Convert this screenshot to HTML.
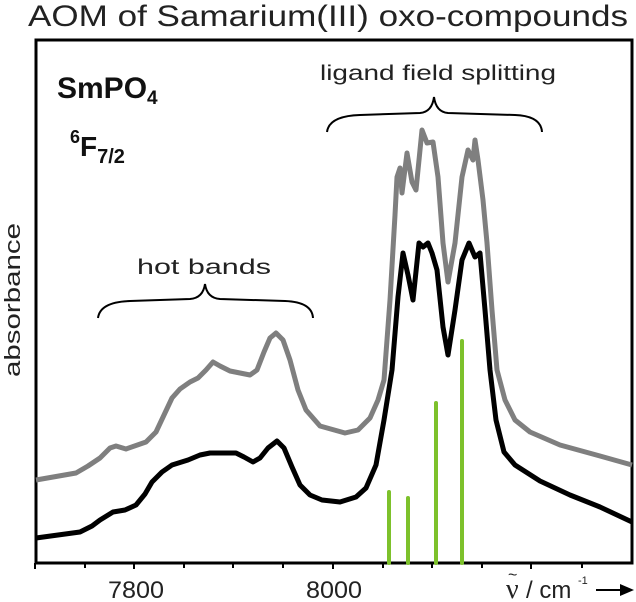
<!DOCTYPE html>
<html><head><meta charset="utf-8"><style>
body{margin:0;background:#fff;}
svg{display:block;font-family:"Liberation Sans",sans-serif;}
</style></head><body>
<svg width="636" height="602" viewBox="0 0 636 602" xmlns="http://www.w3.org/2000/svg">
<rect width="636" height="602" fill="#fff"/>
<text x="28" y="26" font-size="30" textLength="600" lengthAdjust="spacingAndGlyphs" fill="#222">AOM of Samarium(III) oxo-compounds</text>
<rect x="36" y="40" width="596" height="523" fill="none" stroke="#000" stroke-width="3"/>
<g stroke="#000" stroke-width="2">
<line x1="35" y1="563" x2="35" y2="569"/><line x1="85" y1="563" x2="85" y2="568"/>
<line x1="134" y1="563" x2="134" y2="569"/><line x1="184" y1="563" x2="184" y2="568"/>
<line x1="233" y1="563" x2="233" y2="568"/><line x1="283" y1="563" x2="283" y2="568"/>
<line x1="333" y1="563" x2="333" y2="569"/><line x1="383" y1="563" x2="383" y2="568"/>
<line x1="432" y1="563" x2="432" y2="568"/><line x1="482" y1="563" x2="482" y2="568"/>
<line x1="531" y1="563" x2="531" y2="569"/><line x1="582" y1="563" x2="582" y2="568"/>
</g>
<g font-size="24" fill="#222">
<text x="108" y="598" textLength="56" lengthAdjust="spacingAndGlyphs">7800</text>
<text x="306" y="598" textLength="56" lengthAdjust="spacingAndGlyphs">8000</text>
<text x="506" y="598" font-family="Liberation Serif" font-size="28">ν</text>
<text x="508" y="580" font-size="16">~</text>
<text x="526" y="598">/ cm</text>
<text x="578" y="584" font-size="11">-1</text>
</g>
<line x1="596" y1="590" x2="622" y2="590" stroke="#000" stroke-width="2"/>
<polygon points="620,584 634,590 620,596" fill="#000"/>
<text transform="translate(20,300) rotate(-90)" font-size="22" text-anchor="middle" textLength="154" lengthAdjust="spacingAndGlyphs" fill="#222">absorbance</text>
<text x="57" y="98" font-size="30" font-weight="bold" fill="#111">SmPO<tspan font-size="19" dy="6">4</tspan></text>
<text x="70" y="156" font-size="28" font-weight="bold" fill="#111"><tspan font-size="18" dy="-13">6</tspan><tspan dy="13">F</tspan><tspan font-size="20" dy="7">7/2</tspan></text>
<text x="137" y="274" font-size="21" textLength="134" lengthAdjust="spacingAndGlyphs" fill="#222">hot bands</text>
<text x="320" y="80" font-size="21" textLength="236" lengthAdjust="spacingAndGlyphs" fill="#222">ligand field splitting</text>
<g fill="none" stroke="#000" stroke-width="2">
<path d="M98,318 Q100,302 130,301 L190,299 Q203,298 205,284 Q207,298 220,299 L285,301 Q312,302 313,318"/>
<path d="M327,132 Q329,116 360,115 L420,113 Q432,112 434,97 Q436,112 448,113 L515,115 Q541,116 542,132"/>
</g>
<g stroke="#7dc12b" stroke-width="4" stroke-linecap="round">
<line x1="389" y1="563" x2="389" y2="492"/><line x1="408" y1="563" x2="408" y2="498"/>
<line x1="436" y1="563" x2="436" y2="403"/><line x1="462" y1="563" x2="462" y2="341"/>
</g>
<path fill="none" stroke="#7f7f7f" stroke-width="5" stroke-linejoin="round" d="M36,480 L76,473 L88,466 L100,458 L110,448 L116,446 L126,449 L146,442 L156,432 L164,415 L172,398 L180,389 L190,382 L198,378 L206,370 L213,362 L220,366 L230,371 L250,375 L257,370 L264,352 L270,338 L276,333 L283,340 L290,360 L298,390 L306,410 L320,426 L345,433 L358,430 L370,418 L378,400 L384,380 L390,300 L395,215 L397,177 L400,168 L402,193 L407,153 L412,182 L416,190 L422,130 L427,143 L433,142 L438,177 L443,243 L448,282 L455,243 L462,177 L468,150 L473,160 L475,140 L478,160 L483,200 L487,243 L492,310 L497,370 L505,400 L515,420 L530,432 L560,445 L600,456 L632,465"/>
<path fill="none" stroke="#000" stroke-width="5" stroke-linejoin="round" d="M36,538 L80,532 L92,526 L100,520 L113,512 L125,510 L136,505 L145,494 L152,482 L162,472 L172,465 L188,460 L200,455 L210,453 L236,453 L244,457 L253,462 L260,458 L268,448 L277,441 L284,448 L292,467 L300,485 L310,495 L322,500 L340,502 L356,497 L366,488 L376,465 L384,420 L392,370 L398,297 L403,253 L408,275 L413,300 L419,243 L423,247 L428,243 L432,253 L437,270 L443,327 L448,355 L455,310 L462,260 L469,243 L475,257 L480,253 L485,310 L490,370 L496,420 L504,452 L515,465 L540,481 L570,495 L600,507 L632,522"/>
</svg>
</body></html>
